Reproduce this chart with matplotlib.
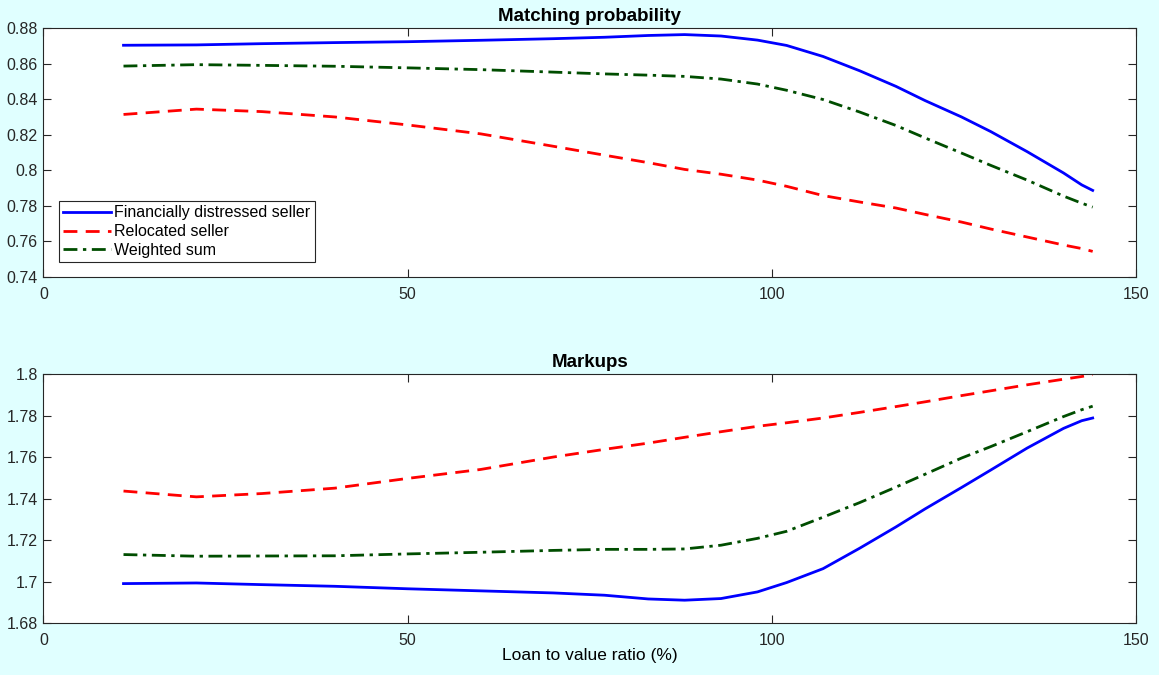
import matplotlib
matplotlib.use("Agg")
import matplotlib.pyplot as plt

plt.rcParams['font.family'] = ['Liberation Sans', 'DejaVu Sans']

ltv = [11, 21, 30, 40, 50, 60, 70, 77, 83, 88, 93, 98, 102, 107, 112, 117,
       121, 126, 130, 135, 140, 142.5, 144]

mp_distressed = [0.8703, 0.8705, 0.8712, 0.8718, 0.8723, 0.8731, 0.8740, 0.8748,
                 0.8758, 0.8763, 0.8755, 0.8732, 0.8702, 0.8640, 0.8560, 0.8472,
                 0.8392, 0.8300, 0.8218, 0.8105, 0.7985, 0.7918, 0.7887]
mp_relocated = [0.8314, 0.8344, 0.8330, 0.8300, 0.8255, 0.8205, 0.8135, 0.8085,
                0.8043, 0.8005, 0.7978, 0.7945, 0.7910, 0.7858, 0.7822, 0.7788,
                0.7752, 0.7709, 0.7670, 0.7625, 0.7580, 0.7560, 0.7544]
mp_weighted = [0.8586, 0.8594, 0.8590, 0.8585, 0.8576, 0.8566, 0.8552, 0.8542,
               0.8535, 0.8528, 0.8513, 0.8485, 0.8450, 0.8398, 0.8328, 0.8252,
               0.8182, 0.8097, 0.8028, 0.7945, 0.7855, 0.7815, 0.7793]

mk_distressed = [1.6990, 1.6993, 1.6985, 1.6977, 1.6965, 1.6955, 1.6945, 1.6934,
                 1.6916, 1.6910, 1.6918, 1.6950, 1.6995, 1.7062, 1.7160, 1.7263,
                 1.7350, 1.7453, 1.7537, 1.7643, 1.7738, 1.7775, 1.7788]
mk_relocated = [1.7436, 1.7408, 1.7424, 1.7450, 1.7497, 1.7540, 1.7600, 1.7637,
                1.7667, 1.7695, 1.7722, 1.7748, 1.7765, 1.7788, 1.7815, 1.7843,
                1.7866, 1.7896, 1.7919, 1.7948, 1.7975, 1.7988, 1.7997]
mk_weighted = [1.7130, 1.7122, 1.7123, 1.7124, 1.7133, 1.7141, 1.7150, 1.7155,
               1.7155, 1.7157, 1.7175, 1.7208, 1.7242, 1.7310, 1.7380, 1.7455,
               1.7517, 1.7595, 1.7650, 1.7722, 1.7795, 1.7828, 1.7845]

labels = ['Financially distressed seller', 'Relocated seller', 'Weighted sum']
titles = ['Matching probability', 'Markups']
xticks = [0, 50, 100, 150]
yticks_top = [0.74, 0.76, 0.78, 0.8, 0.82, 0.84, 0.86, 0.88]
yticks_bot = [1.68, 1.7, 1.72, 1.74, 1.76, 1.78, 1.8]
xlabel = 'Loan to value ratio (%)'

bg = '#E0FFFF'
c_blue = '#0000FF'
c_red = '#FF0000'
c_green = '#004D00'
lw = 2.0
tick_fs = 11.5

fig = plt.figure(figsize=(11.59, 6.75), dpi=100, facecolor=bg)
ax1 = fig.add_axes([0.0374, 0.5896, 0.9431, 0.3689])
ax2 = fig.add_axes([0.0374, 0.0770, 0.9431, 0.3689])


def style(ax, yticks, ylim, title):
    ax.set_xlim(0, 150)
    ax.set_ylim(*ylim)
    ax.set_xticks(xticks)
    ax.set_xticklabels([str(t) for t in xticks])
    ax.set_yticks(yticks)
    ax.set_yticklabels(['%g' % t for t in yticks])
    ax.tick_params(direction='in', length=6, width=0.8, colors='#262626',
                   labelsize=tick_fs, top=True, right=True, pad=4)
    ax.tick_params(axis='x', pad=7)
    for s in ax.spines.values():
        s.set_color('#262626')
        s.set_linewidth(0.8)
    ax.set_title(title, fontsize=13.5, fontweight='bold', pad=5)
    ax.set_facecolor('white')


l1, = ax1.plot(ltv, mp_distressed, color=c_blue, lw=lw, linestyle='-')
l2, = ax1.plot(ltv, mp_relocated, color=c_red, lw=lw, linestyle=(0, (5, 3)))
l3, = ax1.plot(ltv, mp_weighted, color=c_green, lw=lw, linestyle=(0, (5, 2, 1.2, 2)))
style(ax1, yticks_top, (0.74, 0.88), titles[0])
leg = ax1.legend([l1, l2, l3], labels, loc='lower left',
                 bbox_to_anchor=(0.0146, 0.06), fontsize=tick_fs, frameon=True,
                 fancybox=False, edgecolor='#262626', framealpha=1,
                 handlelength=3.0, handletextpad=0.2, borderpad=0.25,
                 labelspacing=0.25, borderaxespad=0)
leg.get_frame().set_linewidth(0.8)

ax2.plot(ltv, mk_distressed, color=c_blue, lw=lw, linestyle='-')
ax2.plot(ltv, mk_relocated, color=c_red, lw=lw, linestyle=(0, (5, 3)))
ax2.plot(ltv, mk_weighted, color=c_green, lw=lw, linestyle=(0, (5, 2, 1.2, 2)))
style(ax2, yticks_bot, (1.68, 1.8), titles[1])
ax2.set_xlabel(xlabel, fontsize=12.5, labelpad=0)

fig.savefig('out.png', dpi=100, facecolor=bg)
